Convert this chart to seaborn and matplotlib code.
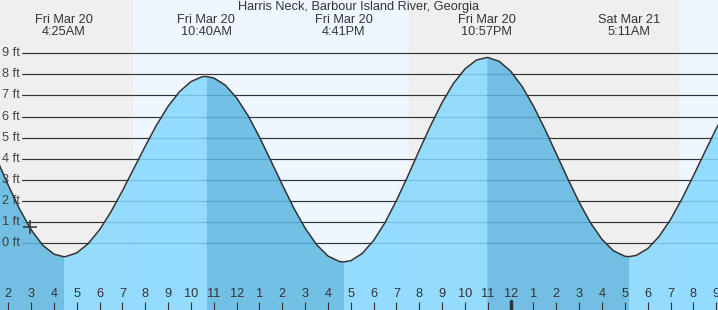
import matplotlib
matplotlib.use("Agg")
import matplotlib.pyplot as plt
import matplotlib.transforms as mtransforms
import numpy as np
import pandas as pd
import seaborn as sns

# ---------------- data ----------------
title = "Harris Neck, Barbour Island River, Georgia"

# hours since Fri Mar 20 00:00, water level in ft (read every half hour)
reading_hours = [1.5, 2.0, 2.5, 3.0, 3.5, 4.0, 4.5, 5.0, 5.5, 6.0, 6.5, 7.0, 7.5,
                 8.0, 8.5, 9.0, 9.5, 10.0, 10.5, 11.0, 11.5, 12.0, 12.5, 13.0,
                 13.5, 14.0, 14.5, 15.0, 15.5, 16.0, 16.5, 17.0, 17.5, 18.0,
                 18.5, 19.0, 19.5, 20.0, 20.5, 21.0, 21.5, 22.0, 22.5, 23.0,
                 23.5, 24.0, 24.5, 25.0, 25.5, 26.0, 26.5, 27.0, 27.5, 28.0,
                 28.5, 29.0, 29.5, 30.0, 30.5, 31.0, 31.5, 32.0, 32.5, 33.0, 33.5]
reading_ft = [3.97, 2.73, 1.59, 0.63, -0.10, -0.53, -0.65, -0.47, -0.03, 0.63,
              1.49, 2.48, 3.54, 4.60, 5.61, 6.49, 7.18, 7.66, 7.89, 7.83, 7.49,
              6.88, 6.04, 5.02, 3.90, 2.76, 1.66, 0.70, -0.08, -0.62, -0.88,
              -0.84, -0.50, 0.12, 0.97, 2.02, 3.18, 4.40, 5.58, 6.67, 7.58,
              8.26, 8.68, 8.80, 8.62, 8.15, 7.43, 6.49, 5.40, 4.23, 3.05, 1.93,
              0.95, 0.17, -0.37, -0.63, -0.59, -0.27, 0.31, 1.11, 2.09, 3.18,
              4.31, 5.42, 6.43]

extreme_hours = [4.417, 10.667, 16.683, 22.95, 29.183]
extreme_ft = [-0.65, 7.9, -0.9, 8.8, -0.65]
extreme_days = ["Fri Mar 20", "Fri Mar 20", "Fri Mar 20", "Fri Mar 20", "Sat Mar 21"]
extreme_times = ["4:25AM", "10:40AM", "4:41PM", "10:57PM", "5:11AM"]

sun_hours = [7.46, 19.55, 31.38]          # sunrise, sunset, sunrise
ft_levels = [0, 1, 2, 3, 4, 5, 6, 7, 8, 9]
ft_labels = ["0 ft", "1 ft", "2 ft", "3 ft", "4 ft", "5 ft", "6 ft", "7 ft", "8 ft", "9 ft"]
hour_ticks = list(range(2, 34))
hour_labels = ["2", "3", "4", "5", "6", "7", "8", "9", "10", "11", "12", "1", "2", "3",
               "4", "5", "6", "7", "8", "9", "10", "11", "12", "1", "2", "3", "4",
               "5", "6", "7", "8", "9"]
midnight_hour = 24
now_hour, now_ft = 2.95, 0.76

# ---------------- styling ----------------
X0, X1 = 1.636, 33.08
Y0, Y1 = -3.18, 11.53
W, H = 718, 310
NIGHT = "#efefef"
DAY = "#eef7ff"
FALL = "#5db7e1"
RISE = "#84d8ff"
INK = "#333333"

sns.set_style("white")
plt.rcParams["font.family"] = ["Liberation Sans", "DejaVu Sans"]

df = pd.DataFrame({
    "hour": reading_hours + extreme_hours,
    "ft": reading_ft + extreme_ft,
}).sort_values("hour").reset_index(drop=True)

fig = plt.figure(figsize=(W / 100, H / 100), dpi=100)
ax = fig.add_axes([0, 0, 1, 1])
ax.set_xlim(X0, X1)
ax.set_ylim(Y0, Y1)
for s in ax.spines.values():
    s.set_visible(False)

# day / night background
edges = [X0] + sun_hours + [X1]
for i in range(len(edges) - 1):
    ax.axvspan(edges[i], edges[i + 1], color=NIGHT if i % 2 == 0 else DAY,
               lw=0, zorder=0)

# grid lines and labels
ytr = mtransforms.blended_transform_factory(ax.transAxes, ax.transData)
for lvl, lab in zip(ft_levels, ft_labels):
    ax.axhline(lvl, xmin=22 / W, xmax=1, color=INK, lw=0.85, zorder=1)
    ax.text(2 / W, lvl, lab, transform=ytr, ha="left", va="center",
            fontsize=9.2, color=INK, alpha=0.9, zorder=3.5)

# fills: falling = dark, rising = light
bounds = [X0 - 1] + extreme_hours + [X1 + 1]
for i in range(len(bounds) - 1):
    seg = df[(df["hour"] >= bounds[i]) & (df["hour"] <= bounds[i + 1])]
    ax.fill_between(seg["hour"], seg["ft"], Y0 - 1,
                    color=FALL if i % 2 == 0 else RISE, alpha=0.85, lw=0, zorder=3)

sns.lineplot(data=df, x="hour", y="ft", color=INK, lw=1.1, ax=ax, zorder=4)
ax.lines[-1].set_solid_joinstyle("round")
ax.plot([now_hour], [now_ft], marker="+", ms=10, mew=1.1, color=INK, zorder=5)

# extreme labels and title
xtr = mtransforms.blended_transform_factory(ax.transData, ax.transAxes)
for hx, d, t in zip(extreme_hours, extreme_days, extreme_times):
    ax.text(hx, 1 - 20 / H, d, transform=xtr, ha="center", va="center",
            fontsize=9.2, color=INK, zorder=6)
    ax.text(hx, 1 - 32 / H, t, transform=xtr, ha="center", va="center",
            fontsize=9.2, color=INK, zorder=6)
ax.text(0.5, 1 - 7 / H, title, transform=ax.transAxes, ha="center",
        va="center", fontsize=9.2, color=INK, zorder=6)

# hour ticks
ax.set_xticks(hour_ticks, hour_labels)
ax.tick_params(axis="x", direction="in", length=6, width=0.8, color=INK,
               labelcolor=INK, labelsize=9.2, pad=-16, bottom=True)
ax.xaxis.set_zorder(7)
ax.set_yticks([])
ax.set_xlabel("")
ax.set_ylabel("")
ax.axvline(midnight_hour, ymin=0, ymax=9 / H, color=INK, lw=2.5, zorder=8)

fig.savefig("out.png", dpi=100)
